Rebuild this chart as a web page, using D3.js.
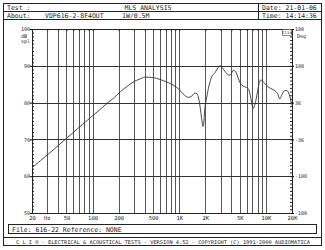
<!DOCTYPE html>
<html>
<head>
<meta charset="utf-8">
<script src="https://cdn.jsdelivr.net/npm/d3@7"></script>
<style>
  body { margin: 0; background: #fff; }
  svg text { font-family: "DejaVu Sans Mono", "Liberation Mono", monospace; fill: #222; }
</style>
</head>
<body>
<div id="host"></div>
<script>
// frequency response (Hz, dB spl)
const freqs = [20, 25, 30, 35, 40, 50, 60, 70, 85, 100, 120, 150, 180, 210, 250, 300, 350, 400, 450, 500,
  600, 700, 800, 900, 1000, 1100, 1200, 1270, 1400, 1520, 1600, 1680, 1760, 1830, 1880, 1920, 1970, 2070,
  2200, 2370, 2600, 2800, 2950, 3150, 3400, 3700, 3900, 4200, 4500, 5000, 5300, 5700, 6250, 6600, 6900,
  7150, 7400, 7800, 8300, 8750, 9300, 10000, 10600, 11500, 12700, 13600, 14500, 15200, 16300, 17300,
  18300, 18900, 19500, 20000];
const splDb = [62.3, 64.2, 65.8, 67.1, 68.3, 70.3, 71.9, 73.3, 75.0, 76.4, 78.0, 80.0, 81.5, 83.0, 84.4, 85.7, 86.4, 86.9, 86.9, 86.8,
  86.3, 85.7, 85.1, 84.4, 83.5, 82.4, 81.7, 81.4, 81.8, 82.6, 82.4, 81.0, 78.0, 75.0, 73.5, 74.5, 78.0, 81.3,
  84.5, 87.0, 88.2, 89.5, 90.0, 89.4, 88.4, 87.5, 87.5, 88.8, 88.3, 85.5, 84.7, 84.3, 83.8, 82.0, 79.5,
  78.4, 79.2, 81.5, 85.0, 86.2, 85.6, 84.9, 84.3, 83.8, 83.2, 82.5, 81.0, 82.0, 83.2, 83.3,
  82.6, 81.6, 80.3, 79.3];

const xTicks = [20, 50, 100, 200, 500, 1000, 2000, 5000, 10000, 20000];
const xTickLabels = ['20', '50', '100', '200', '500', '1K', '2K', '5K', '10K', '20K'];
const xGrid = [30, 40, 50, 60, 70, 80, 90, 100, 200, 300, 400, 500, 600, 700, 800, 900,
  1000, 2000, 3000, 4000, 5000, 6000, 7000, 8000, 9000, 10000];
const dbTicks = [100, 90, 80, 70, 60, 50];
const phaseLabels = ['180', '108', '36', '-36', '-108', '-180'];

const W = 325, H = 250;
const margin = { top: 29, right: 33, bottom: 37, left: 32 };

const svg = d3.select('#host').append('svg').attr('width', W).attr('height', H);

// outer frame, header and footer boxes
const frame = svg.append('g').attr('fill', 'none').attr('stroke', '#222').attr('stroke-width', 1);
frame.append('rect').attr('x', 3.5).attr('y', 3.5).attr('width', 318).attr('height', 242);
frame.append('line').attr('x1', 3.5).attr('x2', 321.5).attr('y1', 11.5).attr('y2', 11.5);
frame.append('line').attr('x1', 3.5).attr('x2', 321.5).attr('y1', 19.5).attr('y2', 19.5);
frame.append('line').attr('x1', 258.5).attr('x2', 258.5).attr('y1', 3.5).attr('y2', 19.5);
frame.append('rect').attr('x', 8.5).attr('y', 224.5).attr('width', 308).attr('height', 9);
frame.append('line').attr('x1', 3.5).attr('x2', 321.5).attr('y1', 237.5).attr('y2', 237.5);

const txt = (x, y, s, anchor = 'start', size = 6.5) =>
  svg.append('text').attr('x', x).attr('y', y).attr('text-anchor', anchor)
    .attr('font-size', size).text(s);

txt(7, 10, 'Test :');
txt(7, 18, 'About:');
txt(45, 18, 'VDP616-2-8F4OUT');
txt(122, 18, '1W/0.5M');
txt(148, 10, 'MLS ANALYSIS', 'middle');
txt(262, 10, 'Date: 21-01-06');
txt(262, 18, 'Time: 14:14:36');
txt(12, 231.5, 'File: 616-22   Reference: NONE');
txt(16, 244, 'C L I O  -  ELECTRICAL & ACOUSTICAL TESTS  -  VERSION 4.52  -  COPYRIGHT (C) 1991-2000 AUDIOMATICA', 'start', 5)
  .attr('textLength', 294).attr('lengthAdjust', 'spacingAndGlyphs');

// plot
const x = d3.scaleLog().domain([20, 20000]).range([margin.left, W - margin.right]);
const y = d3.scaleLinear().domain([50, 100]).range([H - margin.bottom, margin.top]);
const yPhase = d3.scaleLinear().domain([-180, 180]).range(y.range());

const g = svg.append('g');

g.selectAll('.vg').data(xGrid).join('line')
  .attr('x1', d => Math.round(x(d)) + 0.5).attr('x2', d => Math.round(x(d)) + 0.5)
  .attr('y1', y(100)).attr('y2', y(50))
  .attr('stroke', '#555').attr('stroke-width', 1);

g.selectAll('.hg').data(dbTicks.slice(1, -1)).join('line')
  .attr('x1', x(20)).attr('x2', x(20000))
  .attr('y1', d => Math.round(y(d)) + 0.5).attr('y2', d => Math.round(y(d)) + 0.5)
  .attr('stroke', '#333').attr('stroke-width', 1);

// left axis with 1 dB minor ticks
const leftAxis = g.append('g').attr('transform', `translate(${x(20)},0)`)
  .call(d3.axisRight(y).tickValues(d3.range(50, 101, 1)).tickSize(2).tickFormat(''));
leftAxis.selectAll('line, path').attr('stroke', '#222');
g.append('g').attr('transform', `translate(${x(20)},0)`)
  .call(d3.axisLeft(y).tickValues(dbTicks).tickSize(2).tickPadding(0).tickFormat(d3.format('d')))
  .call(a => a.select('.domain').attr('stroke', '#222'))
  .call(a => a.selectAll('text').attr('font-size', 5).attr('font-family', '"DejaVu Sans Mono", monospace').attr('fill', '#333'));

// right phase axis
const rightAxis = g.append('g').attr('transform', `translate(${x(20000)},0)`)
  .call(d3.axisLeft(yPhase).tickValues(d3.range(-180, 181, 7.2)).tickSize(2).tickFormat(''));
rightAxis.selectAll('line, path').attr('stroke', '#222');
g.append('g').attr('transform', `translate(${x(20000)},0)`)
  .call(d3.axisRight(yPhase).tickValues(d3.range(180, -181, -72)).tickSize(2).tickPadding(1)
    .tickFormat((d, i) => phaseLabels[i]))
  .call(a => a.select('.domain').attr('stroke', '#222'))
  .call(a => a.selectAll('text').attr('font-size', 5).attr('font-family', '"DejaVu Sans Mono", monospace').attr('fill', '#333'));

// top and bottom borders
g.append('g').attr('transform', `translate(0,${y(100)})`)
  .call(d3.axisBottom(x).tickValues(xGrid).tickSize(2).tickFormat(''))
  .selectAll('line, path').attr('stroke', '#222');
g.append('g').attr('transform', `translate(0,${y(50)})`)
  .call(d3.axisBottom(x).tickValues(xTicks).tickSize(0).tickPadding(3).tickFormat((d, i) => xTickLabels[i]))
  .call(a => a.select('.domain').attr('stroke', '#222'))
  .call(a => a.selectAll('text').attr('font-size', 5.5).attr('font-family', '"DejaVu Sans Mono", monospace').attr('fill', '#333'));

txt(44, 220, 'Hz', 'start', 5.5);
txt(21, 38, 'dB', 'start', 5);
txt(21, 43, 'spl', 'start', 5);
txt(297, 38, 'Deg', 'start', 5);

// Clio tag
g.append('rect').attr('x', 282.5).attr('y', y(100) + 0.5).attr('width', 9).attr('height', 6)
  .attr('fill', '#fff').attr('stroke', '#444').attr('stroke-width', 0.6);
txt(287, y(100) + 5, 'Clio', 'middle', 4);

// response curve
const line = d3.line().x(d => x(d[0])).y(d => y(d[1])).curve(d3.curveMonotoneX);
g.append('path').datum(freqs.map((f, i) => [f, splDb[i]]))
  .attr('fill', 'none').attr('stroke', '#333').attr('stroke-width', 0.9).attr('d', line);
</script>
</body>
</html>
